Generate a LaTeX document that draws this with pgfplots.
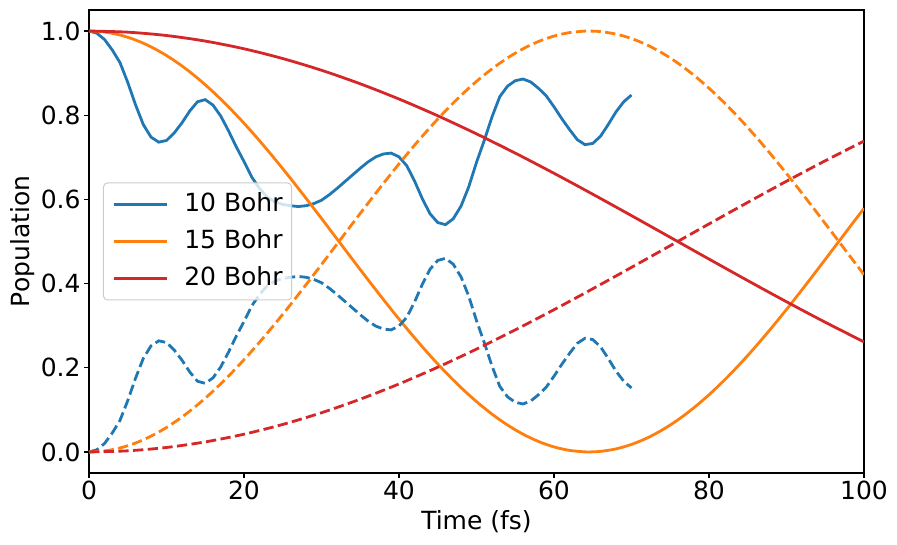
\documentclass[border=0pt]{standalone}
\usepackage{fontspec}
\setmainfont{DejaVu Sans}
\usepackage{pgfplots}
\usepackage{pgfplotstable}
\pgfplotsset{compat=1.18}

\definecolor{tabblue}{HTML}{1F77B4}
\definecolor{taborange}{HTML}{FF7F0E}
\definecolor{tabred}{HTML}{D62728}

% 10 Bohr: population of the initial state (p) and of the other state (q)
\pgfplotstableread{
t p q
0 1.000 0.000
1 0.995 0.005
2 0.980 0.020
3 0.955 0.045
4 0.925 0.075
5 0.878 0.122
6 0.825 0.175
7 0.778 0.222
8 0.748 0.252
9 0.736 0.264
10 0.740 0.260
11 0.758 0.242
12 0.782 0.218
13 0.810 0.190
14 0.832 0.168
15 0.837 0.163
16 0.824 0.176
17 0.798 0.202
18 0.763 0.237
19 0.725 0.275
20 0.690 0.310
21 0.653 0.347
22 0.626 0.374
23 0.605 0.395
24 0.594 0.406
25 0.588 0.412
26 0.585 0.415
27 0.583 0.417
28 0.585 0.415
29 0.590 0.410
30 0.598 0.402
31 0.611 0.389
32 0.626 0.374
33 0.642 0.358
34 0.658 0.342
35 0.674 0.326
36 0.689 0.311
37 0.701 0.299
38 0.708 0.292
39 0.710 0.290
40 0.701 0.299
41 0.680 0.320
42 0.644 0.356
43 0.602 0.398
44 0.566 0.434
45 0.545 0.455
46 0.540 0.460
47 0.554 0.446
48 0.584 0.416
49 0.630 0.370
50 0.688 0.312
51 0.740 0.260
52 0.796 0.204
53 0.844 0.156
54 0.869 0.131
55 0.882 0.118
56 0.886 0.114
57 0.879 0.121
58 0.864 0.136
59 0.846 0.154
60 0.820 0.180
61 0.792 0.208
62 0.766 0.234
63 0.742 0.258
64 0.730 0.270
65 0.733 0.267
66 0.750 0.250
67 0.778 0.222
68 0.808 0.192
69 0.832 0.168
70 0.848 0.152
}\tenbohr

% 15 Bohr
\pgfplotstableread{
t p q
0 1.00000 0.00000
2 0.99763 0.00237
4 0.99054 0.00946
6 0.97880 0.02120
8 0.96252 0.03748
10 0.94186 0.05814
12 0.91700 0.08300
14 0.88819 0.11181
16 0.85570 0.14430
18 0.81984 0.18016
20 0.78094 0.21906
22 0.73939 0.26061
24 0.69555 0.30445
26 0.64987 0.35013
28 0.60277 0.39723
30 0.55469 0.44531
32 0.50609 0.49391
34 0.45743 0.54257
36 0.40918 0.59082
38 0.36179 0.63821
40 0.31571 0.68429
42 0.27138 0.72862
44 0.22921 0.77079
46 0.18962 0.81038
48 0.15296 0.84704
50 0.11960 0.88040
52 0.08984 0.91016
54 0.06398 0.93602
56 0.04224 0.95776
58 0.02485 0.97515
60 0.01196 0.98804
62 0.00370 0.99630
64 0.00015 0.99985
64.5 0.00000 1.00000
66 0.00134 0.99866
68 0.00725 0.99275
70 0.01784 0.98216
72 0.03300 0.96700
74 0.05258 0.94742
76 0.07641 0.92359
78 0.10426 0.89574
80 0.13586 0.86414
82 0.17091 0.82909
84 0.20908 0.79092
86 0.25001 0.74999
88 0.29331 0.70669
90 0.33857 0.66143
92 0.38535 0.61465
94 0.43324 0.56676
96 0.48175 0.51825
98 0.53043 0.46957
100 0.57883 0.42117
}\fifteenbohr

% 20 Bohr
\pgfplotstableread{
t p q
0 1.00000 0.00000
5 0.99733 0.00267
10 0.98935 0.01065
15 0.97614 0.02386
20 0.95784 0.04216
25 0.93465 0.06535
30 0.90682 0.09318
35 0.87465 0.12535
40 0.83847 0.16153
45 0.79868 0.20132
50 0.75569 0.24431
55 0.70998 0.29002
60 0.66202 0.33798
65 0.61233 0.38767
70 0.56144 0.43856
75 0.50990 0.49010
80 0.45825 0.54175
85 0.40705 0.59295
90 0.35683 0.64317
95 0.30815 0.69185
100 0.26152 0.73848
}\twentybohr

\begin{document}
\begin{tikzpicture}
\begin{axis}[
  scale only axis,
  width=775pt, height=463pt,
  xmin=0, xmax=100, ymin=-0.05, ymax=1.05,
  xtick={0,20,40,60,80,100},
  ytick={0,0.2,0.4,0.6,0.8,1.0},
  yticklabel style={/pgf/number format/.cd, fixed, fixed zerofill, precision=1},
  /pgf/number format/assume math mode=true,
  tick pos=left,
  tick align=outside,
  major tick length=4.9pt,
  every tick/.style={black, line width=1.1pt},
  axis line style={line width=1.1pt},
  font=\fontsize{25}{30}\selectfont,
  tick label style={font=\fontsize{25}{30}\selectfont},
  xlabel={Time (fs)},
  ylabel={Population},
  xlabel style={at={(axis description cs:0.5,0)}, anchor=center, yshift=-49pt},
  ylabel style={at={(axis description cs:0,0.5)}, anchor=center, yshift=66pt},
  legend cell align=left,
  legend image code/.code={\draw[#1] (0pt,0pt) -- (53pt,0pt);},
  legend style={
    at={(axis description cs:0,0.5)}, anchor=west, xshift=14pt,
    draw=black!20, line width=1pt, rounded corners=4pt,
    fill=white, fill opacity=0.8, text opacity=1,
    font=\fontsize{25}{30}\selectfont,
    inner xsep=9pt, inner ysep=9.5pt, row sep=13pt,
    nodes={inner sep=0pt, text height=19pt, text depth=5pt},
    /tikz/every odd column/.append style={column sep=16pt},
  },
]
\addplot[tabblue, line width=2.8pt] table[x=t, y=p] {\tenbohr};
\addlegendentry{10 Bohr}
\addplot[taborange, line width=2.8pt, smooth] table[x=t, y=p] {\fifteenbohr};
\addlegendentry{15 Bohr}
\addplot[tabred, line width=2.8pt, smooth] table[x=t, y=p] {\twentybohr};
\addlegendentry{20 Bohr}
\addplot[tabblue, line width=2.8pt, dash pattern=on 10.3pt off 4.4pt, forget plot] table[x=t, y=q] {\tenbohr};
\addplot[taborange, line width=2.8pt, dash pattern=on 10.3pt off 4.4pt, smooth, forget plot] table[x=t, y=q] {\fifteenbohr};
\addplot[tabred, line width=2.8pt, dash pattern=on 10.3pt off 4.4pt, smooth, forget plot] table[x=t, y=q] {\twentybohr};
\end{axis}
\pgfresetboundingbox
\path ([shift={(-89pt,-72pt)}]current axis.south west) rectangle ([shift={(33pt,10pt)}]current axis.north east);
\end{tikzpicture}
\end{document}
